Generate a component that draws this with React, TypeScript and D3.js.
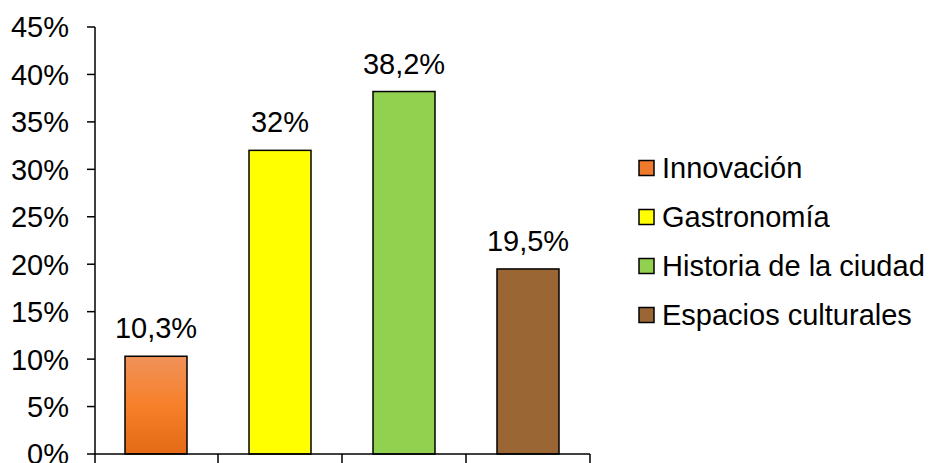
import React from "react";
import * as d3 from "d3";

const categories = ["Innovación", "Gastronomía", "Historia de la ciudad", "Espacios culturales"];
const values = [10.3, 32, 38.2, 19.5];
const valueLabels = ["10,3%", "32%", "38,2%", "19,5%"];
const yTicks = [0, 5, 10, 15, 20, 25, 30, 35, 40, 45];
const colors = ["url(#orangeGrad)", "#FFFF00", "#92D050", "#9A6634"];
const legendColors = ["#F07A2C", "#FFFF00", "#92D050", "#9A6634"];

export default function App() {
  const W = 929, H = 463;
  const x0 = 94, x1 = 590, yTop = 27, yBot = 454;
  const x = d3.scaleBand<string>().domain(categories).range([x0, x1]).paddingInner(0.5).paddingOuter(0.25);
  const xb = d3.scaleBand<string>().domain(categories).range([x0, x1]);
  const y = d3.scaleLinear().domain([0, 45]).range([yBot, yTop]);
  const font = "'Liberation Sans', Arial, sans-serif";
  const fs = 29;
  return (
    <svg width={W} height={H} style={{ position: "absolute", left: 0, top: 0, background: "#fff" }} fontFamily={font}>
      <defs>
        <linearGradient id="orangeGrad" x1="0" y1="0" x2="0" y2="1">
          <stop offset="0" stopColor="#F09259" />
          <stop offset="0.5" stopColor="#F7802A" />
          <stop offset="1" stopColor="#E46A15" />
        </linearGradient>
      </defs>
      {/* y axis */}
      <line x1={95} x2={95} y1={yTop} y2={H} stroke="#000" strokeWidth={1.5} />
      {yTicks.map((t) => (
        <g key={t}>
          <line x1={87} x2={95} y1={y(t)} y2={y(t)} stroke="#000" strokeWidth={1.5} />
          <text x={69} y={y(t)} dy="0.36em" textAnchor="end" fontSize={fs} fill="#000">{t}%</text>
        </g>
      ))}
      {/* bars */}
      {categories.map((c, i) => (
        <g key={c}>
          <rect x={x(c)} y={y(values[i])} width={x.bandwidth()} height={yBot - y(values[i])} fill={colors[i]} stroke="#000" strokeWidth={1.5} />
          <text x={(x(c) as number) + x.bandwidth() / 2} y={y(values[i]) - 18} textAnchor="middle" fontSize={fs} fill="#000">{valueLabels[i]}</text>
        </g>
      ))}
      {/* x axis */}
      <line x1={x0} x2={x1} y1={yBot} y2={yBot} stroke="#000" strokeWidth={1.5} />
      {categories.map((c) => (
        <line key={c} x1={(xb(c) as number) + xb.bandwidth()} x2={(xb(c) as number) + xb.bandwidth()} y1={yBot} y2={H} stroke="#000" strokeWidth={1.5} />
      ))}
      {/* legend */}
      {categories.map((c, i) => (
        <g key={c} transform={`translate(639, ${168 + i * 49})`}>
          <rect x={0} y={-7.5} width={15} height={15} fill={legendColors[i]} stroke="#000" strokeWidth={1.5} />
          <text x={23} y={0} dy="0.36em" fontSize={fs} fill="#000">{c}</text>
        </g>
      ))}
    </svg>
  );
}
